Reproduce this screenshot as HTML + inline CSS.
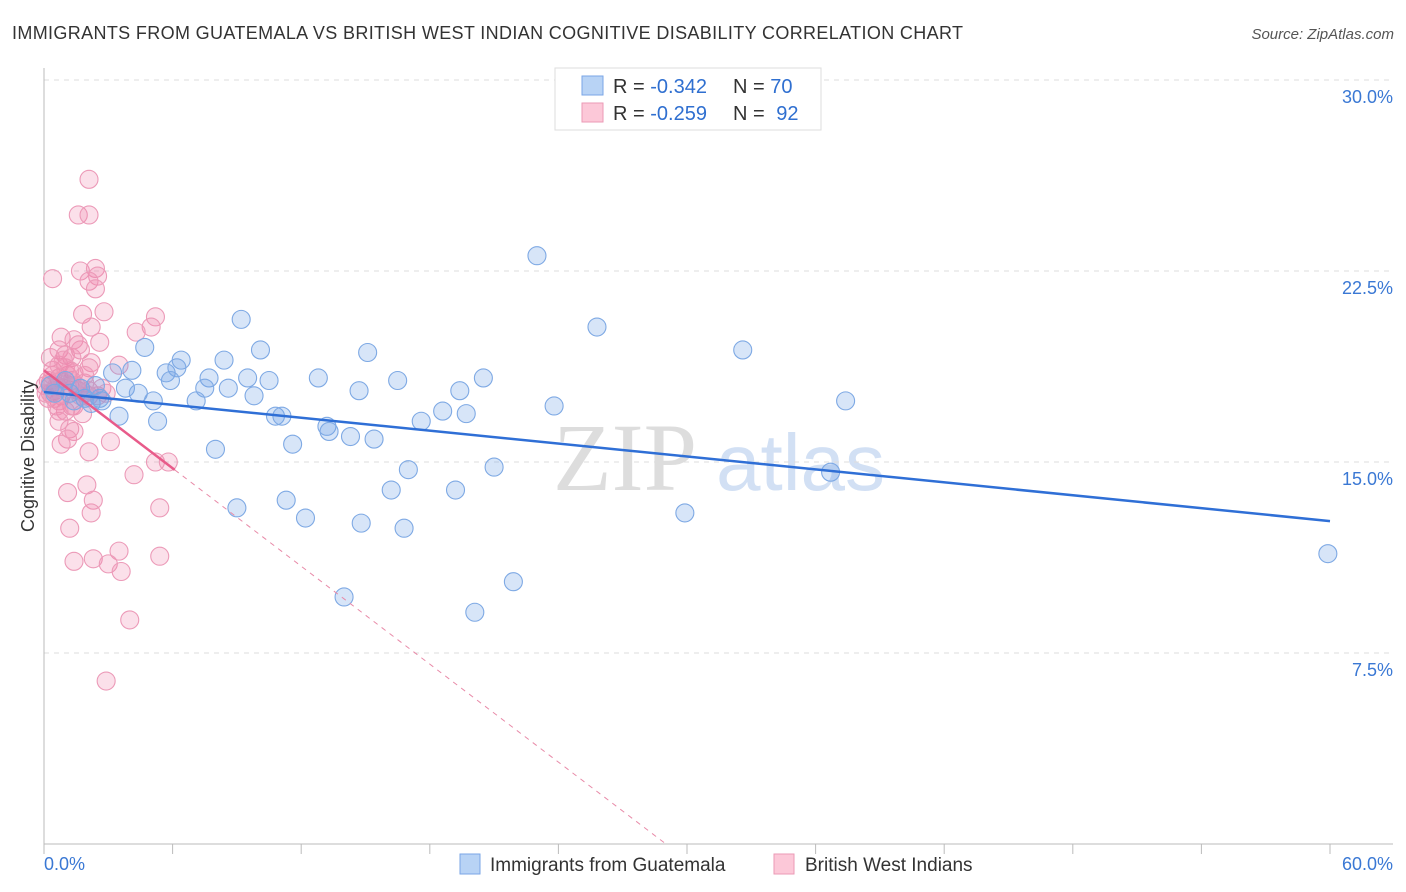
<!DOCTYPE html>
<html><head><meta charset="utf-8"><style>
body{margin:0;background:#fff;font-family:"Liberation Sans",sans-serif;}
#wrap{position:relative;width:1406px;height:892px;overflow:hidden;}
</style></head><body>
<div id="wrap">
<svg id="svg" width="1406" height="892" xmlns="http://www.w3.org/2000/svg">
<text x="12" y="39" font-size="18" fill="#333" textLength="951" lengthAdjust="spacing">IMMIGRANTS FROM GUATEMALA VS BRITISH WEST INDIAN COGNITIVE DISABILITY CORRELATION CHART</text>
<text x="1394" y="39" font-size="15" fill="#555" font-style="italic" text-anchor="end">Source: ZipAtlas.com</text>
<text x="553" y="490" font-size="96" fill="#ddd" font-family="Liberation Serif,serif">ZIP</text>
<text x="716" y="490" font-size="80" fill="#d2e0f4">atlas</text>
<g id="grid"></g><g id="axes"></g><g id="pts"></g><g id="lines"></g>
<text transform="translate(34,456) rotate(-90)" font-size="18" fill="#333" text-anchor="middle">Cognitive Disability</text>
<g>
<rect x="555" y="68" width="266" height="62" fill="#fff" stroke="#ddd"/>
<rect x="582" y="76" width="21" height="19" fill="#b8d3f5" stroke="#7aa6e6"/>
<rect x="582" y="103" width="21" height="19" fill="#fcc8d8" stroke="#eb9ab6"/>
<text x="613" y="93" font-size="20" fill="#333">R = <tspan fill="#2f6fd0">-0.342</tspan></text>
<text x="733" y="93" font-size="20" fill="#333">N = <tspan fill="#2f6fd0">70</tspan></text>
<text x="613" y="120" font-size="20" fill="#333">R = <tspan fill="#2f6fd0">-0.259</tspan></text>
<text x="733" y="120" font-size="20" fill="#333">N = <tspan fill="#2f6fd0" dx="6">92</tspan></text>
</g>
<g>
<rect x="460" y="854" width="20" height="20" fill="#b8d3f5" stroke="#7aa6e6"/>
<text x="490" y="871" font-size="19" fill="#333">Immigrants from Guatemala</text>
<rect x="774" y="854" width="20" height="20" fill="#fcc8d8" stroke="#eb9ab6"/>
<text x="805" y="871" font-size="19" fill="#333">British West Indians</text>
</g>
</svg>
</div>
<script>
const yTicks=[7.5,15,22.5,30];
const yTickLabels=["7.5%","15.0%","22.5%","30.0%"];
const xTickLabels=["0.0%","60.0%"];
const blueX=[23.0,25.8,32.6,9.2,4.7,6.4,8.4,10.1,15.1,5.7,3.2,4.1,6.2,7.7,9.5,10.5,12.8,16.5,20.5,3.8,4.4,5.9,7.5,8.6,9.8,14.7,19.4,5.1,7.1,2.7,2.2,3.5,5.3,10.8,11.1,18.6,17.6,19.7,23.8,37.4,13.2,13.3,14.3,15.4,11.6,8.0,17.0,21.0,36.7,16.2,19.2,11.3,9.0,12.2,14.8,16.8,29.9,14.0,21.9,20.1,59.9,2.6,1.9,0.5,0.3,1.2,1.0,1.7,2.4,1.4];
const blueY=[23.1,20.3,19.4,20.6,19.5,19.0,19.0,19.4,19.3,18.5,18.5,18.6,18.7,18.3,18.3,18.2,18.3,18.2,18.3,17.9,17.7,18.2,17.9,17.9,17.6,17.8,17.8,17.4,17.4,17.4,17.3,16.8,16.6,16.8,16.8,17.0,16.6,16.9,17.2,17.4,16.4,16.2,16.0,15.9,15.7,15.5,14.7,14.8,14.6,13.9,13.9,13.5,13.2,12.8,12.6,12.4,13.0,9.7,10.3,9.1,11.4,17.5,17.5,17.7,18.0,17.7,18.2,17.9,18.0,17.4];
const pinkX=[2.1,1.6,2.1,0.4,1.7,2.4,2.5,2.1,2.4,2.8,1.8,2.2,5.2,5.0,4.3,0.8,1.4,2.6,0.7,1.7,1.0,1.3,2.2,3.5,0.3,0.4,1.4,2.1,0.7,0.3,0.5,0.8,1.2,1.6,1.9,0.7,1.3,2.1,0.2,1.0,1.4,1.8,0.7,1.2,1.4,1.1,0.8,3.1,2.1,5.2,5.8,4.2,2.0,1.1,2.3,5.4,2.2,1.2,1.4,3.5,2.3,3.0,3.6,5.4,4.0,2.9,0.2,0.4,0.6,0.9,1.1,1.3,1.5,1.7,1.9,0.3,0.5,0.7,1.0,0.05,0.1,0.6,0.8,2.1,2.5,0.7,1.6,0.9,1.2,1.9,2.7,2.9];
const pinkY=[26.1,24.7,24.7,22.2,22.5,22.6,22.3,22.1,21.8,20.9,20.8,20.3,20.7,20.3,20.1,19.9,19.8,19.7,19.4,19.4,19.2,19.1,18.9,18.8,19.1,18.6,18.5,18.7,18.3,18.1,17.8,17.6,18.0,17.8,18.1,17.4,17.2,17.6,17.5,17.0,17.2,16.9,16.6,16.3,16.2,15.9,15.7,15.8,15.4,15.0,15.0,14.5,14.1,13.8,13.5,13.2,13.0,12.4,11.1,11.5,11.2,11.0,10.7,11.3,8.8,6.4,18.2,18.4,18.0,17.9,18.4,18.2,18.0,17.6,17.7,17.7,17.5,18.8,18.7,18.0,17.7,17.2,18.2,17.8,17.6,17.0,19.6,19.0,18.6,18.4,17.9,17.7];
const blueTrend=[17.75,12.68];
const pinkTrend=[18.6,-0.641];
const X0=44,X1=1330,Y0=844,YT=80;
const sx=v=>X0+v*(X1-X0)/60;
const sy=v=>Y0-v*(Y0-YT)/30;
const NS="http://www.w3.org/2000/svg";
function mk(tag,attrs,parent){const e=document.createElementNS(NS,tag);for(const k in attrs)e.setAttribute(k,attrs[k]);document.getElementById(parent).appendChild(e);return e;}
yTicks.forEach((t,i)=>{
 const g=mk('line',{x1:X0,x2:1393,y1:sy(t),y2:sy(t),stroke:'#ddd','stroke-dasharray':'5,5'},'grid');
 
 
 const l=mk('text',{x:1393,y:sy(t)+23,'font-size':18,fill:'#3a78d4','text-anchor':'end'},'grid');
 l.textContent=yTickLabels[i];
 
 
});
const ax=mk('line',{x1:X0,x2:X0,y1:68,y2:Y0,stroke:'#bbb'},'axes');


const bx=mk('line',{x1:X0,x2:1393,y1:Y0,y2:Y0,stroke:'#bbb'},'axes');


for(let i=0;i<=10;i++){
 const t=mk('line',{x1:sx(i*6),x2:sx(i*6),y1:Y0,y2:Y0+10,stroke:'#bbb'},'axes');
 
 
}
[[0,'start'],[60,'end']].forEach((p,i)=>{
 const l=mk('text',{x:i?1393:44,y:870,'font-size':18,fill:'#3a78d4','text-anchor':p[1]},'axes');
 l.textContent=xTickLabels[i];
 
 
});
pinkX.forEach((x,i)=>{
 const c=mk('circle',{cx:sx(x),cy:sy(pinkY[i]),r:9,fill:'rgba(240,130,170,0.25)',stroke:'#ec9ab8','stroke-width':1.1},'pts');
 
 
});
blueX.forEach((x,i)=>{
 const c=mk('circle',{cx:sx(x),cy:sy(blueY[i]),r:9,fill:'rgba(110,160,230,0.28)',stroke:'#7ea9e4','stroke-width':1.1},'pts');
 
 
});
const bl=mk('line',{x1:sx(0),y1:sy(blueTrend[0]),x2:sx(60),y2:sy(blueTrend[1]),stroke:'#2f6fd6','stroke-width':2.5},'lines');


const pf=x=>pinkTrend[0]+pinkTrend[1]*x;
const xEnd=-pinkTrend[0]/pinkTrend[1];
const pd=mk('line',{x1:sx(6.1),y1:sy(pf(6.1)),x2:sx(xEnd),y2:sy(0),stroke:'#e88aa8','stroke-width':1,'stroke-dasharray':'5,5'},'lines');


const pl=mk('line',{x1:sx(0),y1:sy(pf(0)),x2:sx(6.1),y2:sy(pf(6.1)),stroke:'#e85b8a','stroke-width':2.5},'lines');


</script>
</body></html>
